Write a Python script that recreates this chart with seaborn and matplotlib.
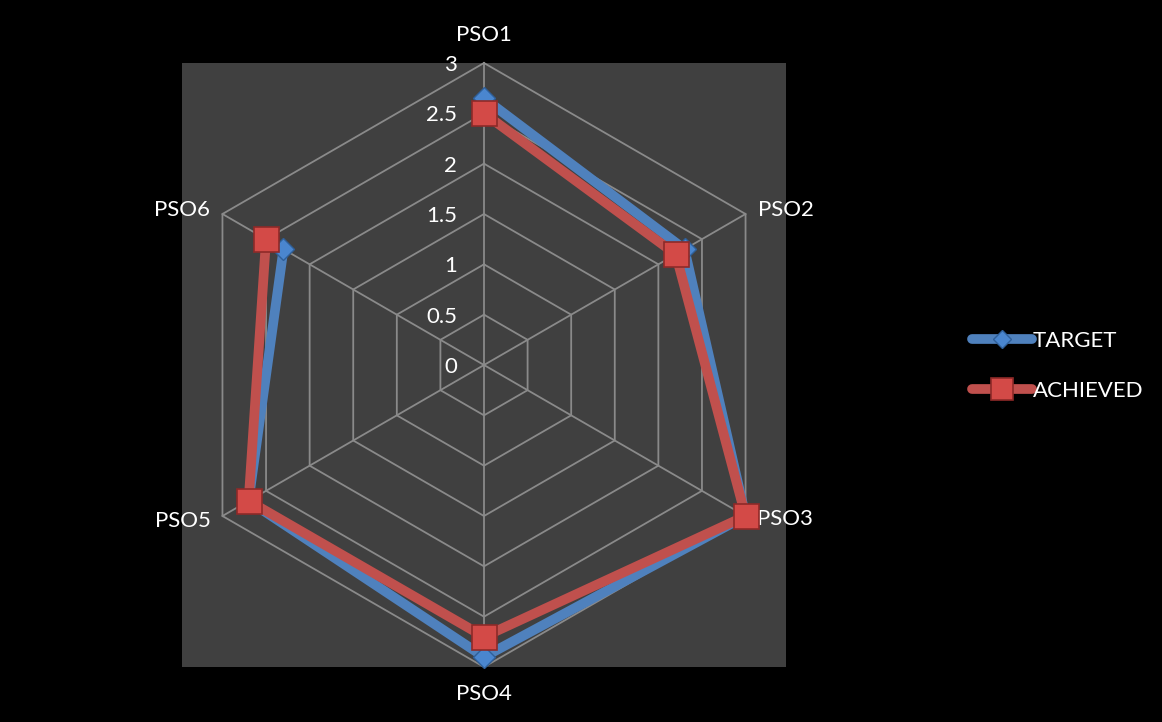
import numpy as np
import pandas as pd
import seaborn as sns
import matplotlib.pyplot as plt
from matplotlib.patches import Rectangle

plt.rcParams['font.family'] = ['Lato', 'DejaVu Sans']

# Data
categories = ["PSO1", "PSO2", "PSO3", "PSO4", "PSO5", "PSO6"]
target = [2.65, 2.3, 3.0, 2.9, 2.7, 2.3]
achieved = [2.5, 2.2, 3.0, 2.7, 2.7, 2.5]
r_ticks = [0, 0.5, 1, 1.5, 2, 2.5, 3]
r_tick_labels = ["0", "0.5", "1", "1.5", "2", "2.5", "3"]

# angles, clockwise from the top, closed loop
n = len(categories)
angles = np.linspace(0, 2 * np.pi, n, endpoint=False)
theta = np.append(angles, angles[0])

df = pd.DataFrame({
    "theta": np.concatenate([theta, theta]),
    "value": target + [target[0]] + achieved + [achieved[0]],
    "series": ["TARGET"] * (n + 1) + ["ACHIEVED"] * (n + 1),
})

W, H = 1162, 722
fig = plt.figure(figsize=(W / 100, H / 100), dpi=100, facecolor="black")

# gray plot area behind the radar
x0, y0, x1, y1 = 182, 63, 786, 667
box = [x0 / W, 1 - y1 / H, (x1 - x0) / W, (y1 - y0) / H]
fig.add_artist(Rectangle((box[0], box[1]), box[2], box[3], transform=fig.transFigure,
                         facecolor="#404040", edgecolor="none", zorder=-1))

ax = fig.add_axes(box, projection="polar")
ax.set_facecolor("none")
ax.set_theta_zero_location("N")
ax.set_theta_direction(-1)
ax.set_ylim(0, 3)
ax.grid(False)
ax.set_xticks([])
ax.set_yticks([])
ax.spines["polar"].set_visible(False)

grid_color = "#8a8a8a"
# hexagonal grid
for r in r_ticks[1:]:
    ax.plot(theta, [r] * len(theta), color=grid_color, lw=1.3, zorder=1, clip_on=False)
for a in angles:
    ax.plot([a, a], [0, 3], color=grid_color, lw=1.3, zorder=1, clip_on=False)

# series
sub = df[df["series"] == "TARGET"]
sns.lineplot(x=sub["theta"].values, y=sub["value"].values, ax=ax, sort=False,
             color="#4f81bd", lw=7, marker="D", markersize=11,
             markerfacecolor="#4a86cf", markeredgecolor="#2f5f99", markeredgewidth=1,
             solid_capstyle="round", label="TARGET", zorder=3, clip_on=False, legend=False)
sub = df[df["series"] == "ACHIEVED"]
sns.lineplot(x=sub["theta"].values, y=sub["value"].values, ax=ax, sort=False,
             color="#c0504d", lw=7, marker="s", markersize=18,
             markerfacecolor="#d34a47", markeredgecolor="#8e2a28", markeredgewidth=1.2,
             solid_capstyle="round", label="ACHIEVED", zorder=4, clip_on=False, legend=False)
ax.set_xlabel("")
ax.set_ylabel("")

# radial value labels, left of the top spoke
for r, lab in zip(r_ticks, r_tick_labels):
    ax.annotate(lab, xy=(0, r), xytext=(-27, -2), textcoords="offset pixels",
                ha="right", va="center", color="white", fontsize=16)

# category labels
offsets = [(0, 18, "center", "bottom"), (12, 4, "left", "center"),
           (11, -3, "left", "center"), (0, -17, "center", "top"),
           (-12, -5, "right", "center"), (-12, 4, "right", "center")]
for a, lab, (dx, dy, ha, va) in zip(angles, categories, offsets):
    ax.annotate(lab, xy=(a, 3), xytext=(dx, dy), textcoords="offset pixels",
                ha=ha, va=va, color="white", fontsize=16)

handles, labels = ax.get_legend_handles_labels()
fig.legend(handles, labels, loc="center left", bbox_to_anchor=(952 / W, 1 - 366 / H),
           frameon=False, labelcolor="white", fontsize=16, handlelength=2.7,
           handletextpad=0.05, labelspacing=1.35, markerscale=0.85)

fig.savefig("out.png", dpi=100, facecolor="black")
